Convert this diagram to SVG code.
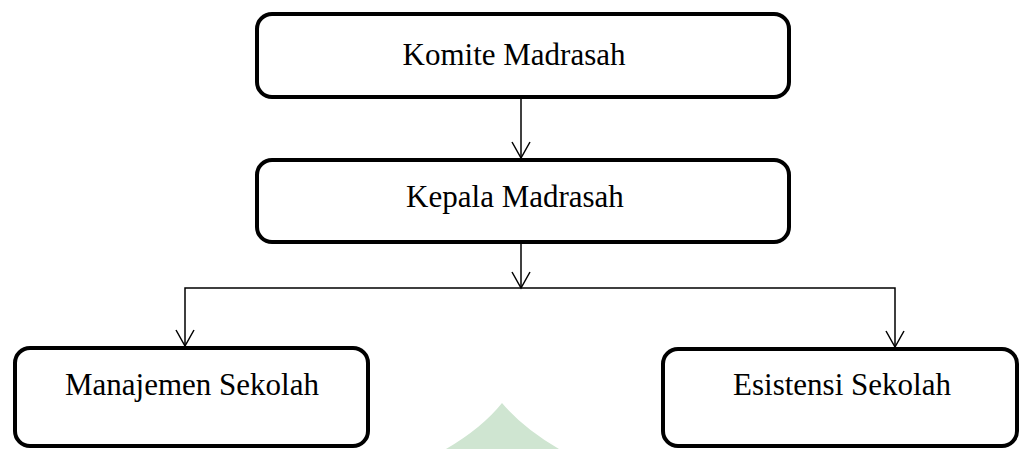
<svg xmlns="http://www.w3.org/2000/svg" width="1021" height="449" viewBox="0 0 1021 449">
  <style>
    .box { fill: #ffffff; stroke: #000000; stroke-width: 4; }
    .lbl { font-family: "Liberation Serif", "Times New Roman", serif; font-size: 31px; fill: #000000; text-anchor: middle; }
    .conn { fill: none; stroke: #000000; stroke-width: 1.5; }
  </style>
  <defs>
    <marker id="v" viewBox="0 0 20 20" refX="18" refY="10" markerWidth="20" markerHeight="20" markerUnits="userSpaceOnUse" orient="auto">
      <path d="M2,1 L18,10 L2,19" fill="none" stroke="#000000" stroke-width="1.5"/>
    </marker>
  </defs>
  <rect width="1021" height="449" fill="#ffffff"/>
  <path d="M 502 403 Q 482 428 446 449 L 559 449 Q 523 428 502 403 Z" fill="#cfe5d1"/>
  <g id="komite">
    <rect class="box" x="257" y="14" width="532" height="83" rx="15" ry="15"/>
    <text class="lbl" x="514" y="65">Komite Madrasah</text>
  </g>
  <g id="kepala">
    <rect class="box" x="257" y="160" width="532" height="82" rx="15" ry="15"/>
    <text class="lbl" x="515" y="207">Kepala Madrasah</text>
  </g>
  <g id="manajemen">
    <rect class="box" x="15" y="348" width="353" height="98" rx="15" ry="15"/>
    <text class="lbl" x="192" y="395">Manajemen Sekolah</text>
  </g>
  <g id="esistensi">
    <rect class="box" x="663" y="349" width="354" height="97" rx="15" ry="15"/>
    <text class="lbl" x="842" y="395">Esistensi Sekolah</text>
  </g>
  <g id="connectors">
    <line class="conn" x1="521" y1="99" x2="521" y2="158" marker-end="url(#v)"/>
    <line class="conn" x1="521" y1="244" x2="521" y2="288" marker-end="url(#v)"/>
    <polyline class="conn" points="521,288 185,288 185,346" marker-end="url(#v)"/>
    <polyline class="conn" points="521,288 895,288 895,347" marker-end="url(#v)"/>
  </g>
</svg>
